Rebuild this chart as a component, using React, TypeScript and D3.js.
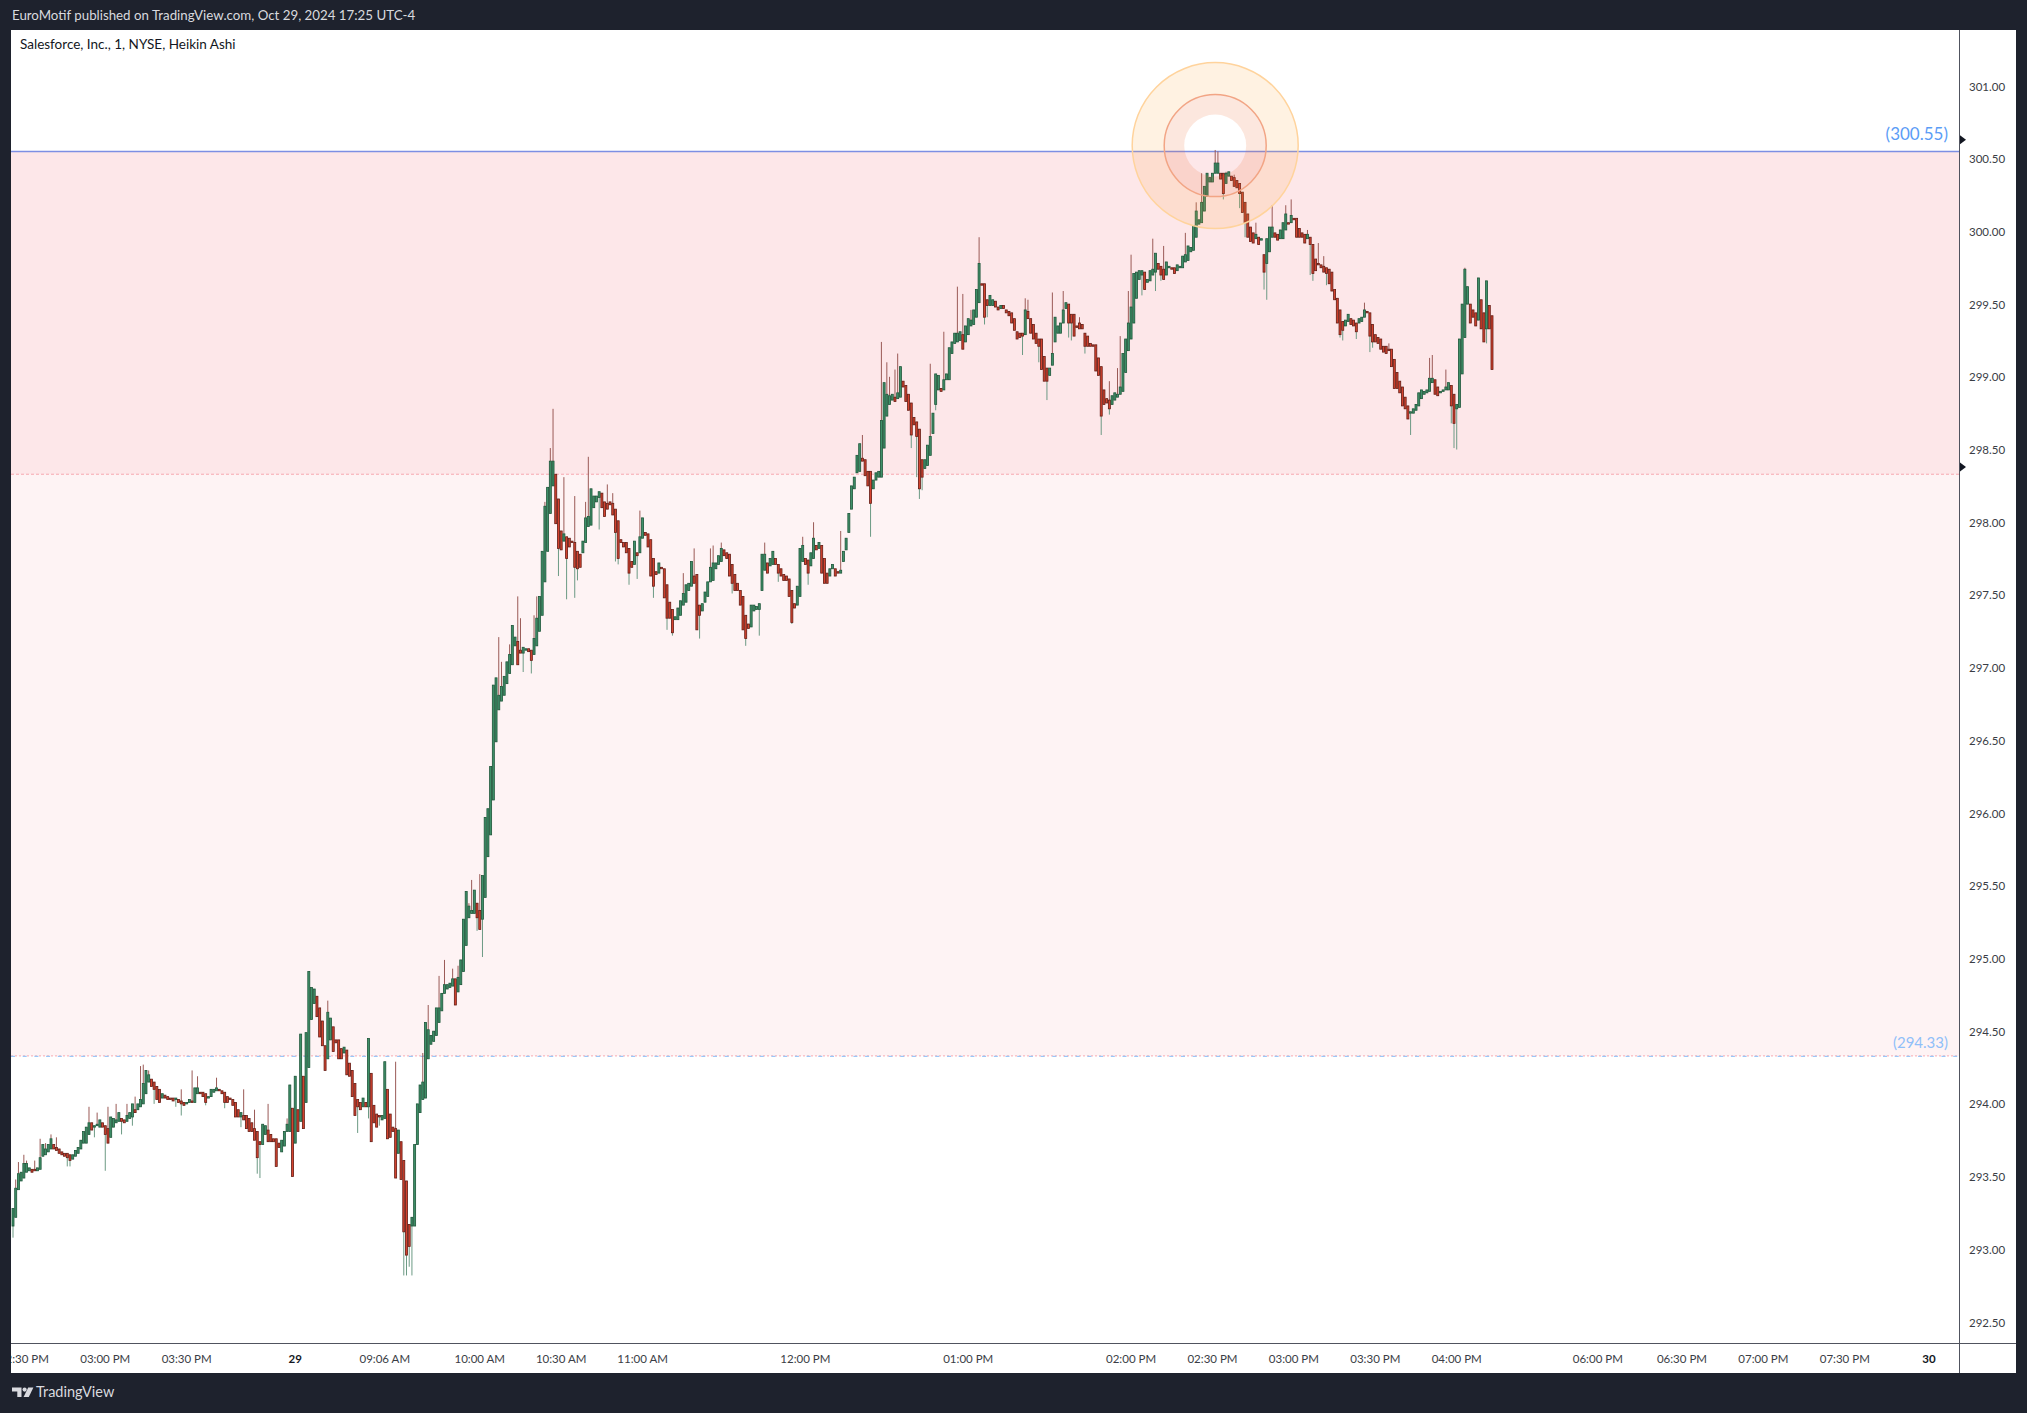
import React from 'react';
import * as d3 from 'd3';

// Salesforce, Inc. (CRM), 1 minute, Heikin Ashi bars.
// Bar index 0 is the first (partly visible) bar at the left edge.
const haOpen = [
  293.16, 293.22, 293.41, 293.47, 293.49, 293.53, 293.54, 293.55, 293.55, 293.54,
  293.55, 293.64, 293.65, 293.67, 293.69, 293.72, 293.70, 293.69, 293.67, 293.66,
  293.66, 293.65, 293.62, 293.64, 293.66, 293.69, 293.73, 293.73, 293.79, 293.87,
  293.84, 293.85, 293.84, 293.87, 293.85, 293.83, 293.77, 293.84, 293.87, 293.88,
  293.90, 293.89, 293.88, 293.90, 293.91, 293.96, 293.96, 293.98, 294.00, 294.07,
  294.15, 294.17, 294.15, 294.12, 294.10, 294.04, 294.06, 294.05, 294.04, 294.04,
  294.03, 294.03, 294.02, 294.01, 294.00, 294.01, 294.02, 294.01, 294.07, 294.08,
  294.08, 294.07, 294.04, 294.05, 294.08, 294.09, 294.10, 294.09, 294.08, 294.05,
  294.04, 294.03, 294.01, 293.96, 293.91, 293.92, 293.92, 293.90, 293.87, 293.83,
  293.81, 293.74, 293.72, 293.79, 293.82, 293.79, 293.76, 293.76, 293.73, 293.67,
  293.71, 293.81, 293.81, 293.97, 293.73, 293.96, 293.88, 294.19, 294.01, 294.25,
  294.58, 294.69, 294.74, 294.66, 294.57, 294.40, 294.31, 294.44, 294.53, 294.44,
  294.44, 294.38, 294.35, 294.37, 294.28, 294.23, 294.14, 294.03, 294.01, 293.98,
  294.01, 293.98, 294.21, 293.99, 293.93, 293.92, 293.89, 293.90, 294.10, 293.93,
  293.84, 293.83, 293.66, 293.74,
  293.61, 293.47, 293.17, 293.16, 293.16, 293.72, 293.94, 294.03, 294.04, 294.31,
  294.41, 294.43, 294.47, 294.56, 294.64, 294.76, 294.79, 294.80, 294.81, 294.86,
  294.77, 294.82, 294.91, 295.09, 295.28, 295.31, 295.31, 295.38, 295.33, 295.27,
  295.42, 295.70, 295.85, 296.09, 296.49, 296.71, 296.77, 296.81, 296.89, 296.96,
  297.02, 297.15, 297.18, 297.12, 297.10, 297.12, 297.13, 297.12, 297.09, 297.15,
  297.25, 297.36, 297.59, 297.80, 298.06, 298.25, 298.33, 298.16, 297.94, 297.87,
  297.90, 297.89, 297.87, 297.86, 297.80, 297.78, 297.79, 297.86, 297.97, 297.98,
  298.10, 298.14, 298.17, 298.20, 298.14, 298.13, 298.14, 298.13, 298.09, 298.01,
  297.88, 297.86, 297.86, 297.82, 297.73, 297.71, 297.79, 297.79, 297.89, 297.93,
  297.92, 297.88, 297.75, 297.66, 297.65, 297.69, 297.68, 297.57, 297.45, 297.40,
  297.33, 297.33, 297.36, 297.43, 297.45, 297.53, 297.56, 297.63, 297.64, 297.43,
  297.39, 297.45, 297.49, 297.59, 297.60, 297.68, 297.71, 297.73, 297.81, 297.79,
  297.78, 297.71, 297.64, 297.58, 297.53, 297.49, 297.36, 297.30, 297.28, 297.39,
  297.40, 297.40, 297.53, 297.67, 297.72, 297.70, 297.71, 297.75, 297.71, 297.68,
  297.64, 297.63, 297.61, 297.53, 297.44, 297.43, 297.49, 297.73, 297.75, 297.74,
  297.70, 297.75, 297.84, 297.82,
  297.84, 297.75, 297.65, 297.63, 297.68, 297.68, 297.66, 297.65, 297.73, 297.81,
  297.93, 298.09, 298.23, 298.34, 298.35, 298.44, 298.43, 298.35, 298.35, 298.23,
  298.29, 298.31, 298.31, 298.51, 298.73, 298.81, 298.84, 298.86, 298.85, 298.86,
  298.97, 298.94, 298.88, 298.82, 298.72, 298.69, 298.64, 298.43, 298.37, 298.39,
  298.46, 298.61, 298.81, 298.91, 298.92, 298.91, 298.98, 298.98, 299.16, 299.23,
  299.24, 299.25, 299.29, 299.24, 299.29, 299.35, 299.36, 299.41, 299.51, 299.64,
  299.64, 299.53, 299.49, 299.49, 299.52, 299.48, 299.47, 299.49, 299.46, 299.45,
  299.44, 299.40, 299.31, 299.30, 299.30, 299.29, 299.45, 299.40, 299.36, 299.30,
  299.26, 299.26, 299.14, 299.06, 299.01, 299.08, 299.24, 299.30, 299.30, 299.37,
  299.47, 299.50, 299.43, 299.43, 299.35, 299.37, 299.36, 299.30, 299.28, 299.23,
  299.22, 299.22, 299.13, 299.07, 298.91, 298.85, 298.84, 298.81, 298.84, 298.86,
  298.88, 298.90, 299.03, 299.18, 299.26, 299.37, 299.54, 299.67, 299.70, 299.72,
  299.65, 299.66, 299.70, 299.72, 299.78, 299.76, 299.74, 299.70, 299.75, 299.75,
  299.75, 299.73, 299.75, 299.75, 299.79, 299.80, 299.86, 299.87, 299.96, 300.05,
  300.06, 300.14, 300.24, 300.34, 300.34, 300.40, 300.40, 300.40, 300.40, 300.33,
  300.38, 300.38, 300.37, 300.35, 300.33,
  300.27, 300.20, 300.12, 300.03, 299.99, 299.95, 299.96, 299.94, 299.84, 299.78,
  299.86, 299.96, 299.99, 299.98, 299.95, 299.95, 300.01, 300.06, 300.06, 300.09,
  300.09, 300.02, 299.99, 299.98, 299.95, 299.96, 299.91, 299.81, 299.78, 299.77,
  299.76, 299.75, 299.74, 299.72, 299.60, 299.54, 299.46, 299.38, 299.35, 299.38,
  299.40, 299.39, 299.37, 299.37, 299.38, 299.41, 299.45, 299.44, 299.36, 299.29,
  299.27, 299.26, 299.21, 299.21, 299.19, 299.19, 299.12, 299.03, 298.97, 298.93,
  298.86, 298.80, 298.75, 298.75, 298.77, 298.80, 298.85, 298.88, 298.89, 298.90,
  298.96, 298.98, 298.93, 298.89, 298.90, 298.91, 298.91, 298.94, 298.88, 298.78,
  298.79, 299.02, 299.27, 299.50, 299.50, 299.46, 299.44, 299.39, 299.53, 299.44,
  299.33, 299.49, 299.42,
];

const haClose = [
  293.28, 293.42, 293.52, 293.53, 293.59, 293.59, 293.56, 293.53, 293.54, 293.56,
  293.63, 293.72, 293.69, 293.72, 293.76, 293.69, 293.68, 293.66, 293.65, 293.64,
  293.63, 293.61, 293.65, 293.68, 293.70, 293.75, 293.81, 293.84, 293.87, 293.82,
  293.85, 293.86, 293.89, 293.84, 293.79, 293.73, 293.91, 293.90, 293.89, 293.94,
  293.88, 293.87, 293.92, 293.94, 294.00, 293.94, 294.00, 294.03, 294.14, 294.23,
  294.20, 294.12, 294.10, 294.03, 294.01, 294.07, 294.04, 294.03, 294.03, 294.02,
  294.04, 294.01, 294.00, 293.99, 294.01, 294.03, 294.01, 294.11, 294.11, 294.07,
  294.05, 294.01, 294.05, 294.10, 294.10, 294.11, 294.09, 294.07, 294.01, 294.01,
  294.03, 293.99, 293.91, 293.91, 293.94, 293.89, 293.83, 293.81, 293.81, 293.75,
  293.63, 293.72, 293.86, 293.85, 293.74, 293.74, 293.74, 293.57, 293.70, 293.75,
  293.81, 293.86, 294.13, 293.50, 294.19, 293.81, 294.48, 293.83, 294.49, 294.91,
  294.80, 294.79, 294.60, 294.46, 294.40, 294.23, 294.63, 294.59, 294.36, 294.42,
  294.31, 294.31, 294.39, 294.20, 294.19, 294.05, 293.92, 293.98, 293.96, 294.04,
  293.98, 294.45, 293.74, 293.87, 293.84, 293.91, 293.92, 294.29, 293.76, 293.77,
  293.81, 293.49, 293.82, 293.48,
  293.12, 292.96, 293.02, 293.22, 293.72, 294.00, 294.13, 294.15, 294.56, 294.51,
  294.47, 294.50, 294.66, 294.66, 294.76, 294.82, 294.82, 294.83, 294.86, 294.68,
  294.87, 294.99, 295.27, 295.46, 295.36, 295.33, 295.47, 295.28, 295.20, 295.57,
  295.97, 296.03, 296.32, 296.88, 296.93, 296.81, 296.87, 296.94, 297.04, 297.09,
  297.29, 297.21, 297.02, 297.10, 297.14, 297.13, 297.11, 297.05, 297.20, 297.34,
  297.49, 297.80, 298.11, 298.24, 298.42, 298.42, 297.99, 297.82, 297.81, 297.92,
  297.75, 297.83, 297.86, 297.69, 297.68, 297.69, 297.87, 298.03, 298.04, 298.23,
  298.18, 298.18, 298.21, 298.10, 298.04, 298.09, 298.12, 298.05, 297.93, 297.75,
  297.86, 297.83, 297.79, 297.65, 297.69, 297.87, 297.77, 297.90, 298.03, 297.91,
  297.83, 297.63, 297.56, 297.64, 297.72, 297.68, 297.48, 297.34, 297.34, 297.24,
  297.35, 297.41, 297.46, 297.51, 297.57, 297.58, 297.73, 297.58, 297.26, 297.36,
  297.44, 297.52, 297.59, 297.69, 297.72, 297.72, 297.77, 297.82, 297.77, 297.75,
  297.63, 297.58, 297.53, 297.53, 297.43, 297.26, 297.20, 297.27, 297.43, 297.43,
  297.42, 297.44, 297.78, 297.78, 297.65, 297.75, 297.80, 297.71, 297.65, 297.63,
  297.60, 297.60, 297.49, 297.31, 297.41, 297.56, 297.82, 297.84, 297.71, 297.65,
  297.79, 297.89, 297.81, 297.86,
  297.65, 297.58, 297.58, 297.68, 297.71, 297.63, 297.65, 297.67, 297.80, 297.89,
  298.06, 298.25, 298.31, 298.46, 298.54, 298.42, 298.32, 298.25, 298.13, 298.29,
  298.34, 298.35, 298.70, 298.96, 298.88, 298.87, 298.88, 298.83, 298.89, 299.07,
  298.93, 298.83, 298.77, 298.60, 298.67, 298.59, 298.23, 298.31, 298.43, 298.53,
  298.59, 298.75, 299.02, 299.01, 298.90, 298.98, 299.02, 299.20, 299.24, 299.30,
  299.30, 299.31, 299.19, 299.35, 299.40, 299.39, 299.46, 299.60, 299.78, 299.63,
  299.41, 299.49, 299.56, 299.53, 299.48, 299.46, 299.49, 299.47, 299.44, 299.42,
  299.37, 299.32, 299.26, 299.27, 299.28, 299.46, 299.40, 299.30, 299.26, 299.23,
  299.21, 299.05, 298.97, 298.97, 299.06, 299.16, 299.41, 299.35, 299.37, 299.46,
  299.51, 299.37, 299.37, 299.28, 299.34, 299.33, 299.33, 299.21, 299.21, 299.21,
  299.21, 299.04, 299.01, 298.73, 298.81, 298.82, 298.78, 298.87, 298.89, 298.88,
  298.93, 299.16, 299.26, 299.37, 299.48, 299.71, 299.72, 299.73, 299.73, 299.60,
  299.67, 299.73, 299.74, 299.85, 299.74, 299.70, 299.67, 299.79, 299.76, 299.74,
  299.71, 299.77, 299.76, 299.83, 299.84, 299.90, 299.89, 300.04, 300.14, 300.08,
  300.20, 300.31, 300.40, 300.37, 300.40, 300.47, 300.47, 300.36, 300.26, 300.40,
  300.41, 300.35, 300.31, 300.30, 300.26,
  300.13, 300.06, 299.96, 299.93, 299.92, 299.98, 299.91, 299.95, 299.72, 299.95,
  300.03, 300.03, 299.96, 299.94, 300.01, 300.06, 300.12, 300.05, 300.11, 300.08,
  299.96, 299.96, 299.96, 299.92, 299.98, 299.91, 299.71, 299.73, 299.77, 299.75,
  299.72, 299.71, 299.64, 299.59, 299.53, 299.37, 299.29, 299.32, 299.39, 299.43,
  299.36, 299.35, 299.31, 299.40, 299.41, 299.46, 299.44, 299.28, 299.24, 299.24,
  299.23, 299.19, 299.17, 299.16, 299.18, 299.07, 298.92, 298.92, 298.89, 298.80,
  298.78, 298.71, 298.76, 298.78, 298.81, 298.89, 298.91, 298.90, 298.91, 298.99,
  298.99, 298.88, 298.87, 298.90, 298.91, 298.93, 298.96, 298.80, 298.68, 298.81,
  299.26, 299.50, 299.74, 299.62, 299.37, 299.41, 299.35, 299.68, 299.33, 299.24,
  299.66, 299.33, 299.05,
];

// visible wick tips: [bar index, price]
const upperWicks = [
  [1, 293.48], [2, 293.60], [4, 293.65], [5, 293.61], [8, 293.61], [10, 293.76], [12, 293.73],
  [14, 293.79], [16, 293.77], [28, 293.98], [31, 293.94], [35, 293.98], [38, 294.00], [42, 294.00],
  [45, 294.05], [47, 294.26], [48, 294.27], [50, 294.23], [62, 294.10], [66, 294.23], [68, 294.19],
  [75, 294.18], [85, 294.10], [89, 293.96], [94, 294.00], [101, 293.90], [116, 294.71], [141, 294.29],
  [150, 293.96], [151, 294.35], [153, 294.68], [157, 294.88], [159, 294.99], [162, 294.93],
  [164, 294.95], [166, 295.11], [168, 295.38], [169, 295.54], [172, 295.58], [175, 295.79],
  [176, 296.14], [178, 296.54], [179, 297.21], [180, 297.04], [183, 297.16], [186, 297.49],
  [187, 297.34], [192, 297.36], [193, 297.49], [196, 298.14], [198, 298.51], [199, 298.78],
  [203, 298.31], [207, 298.18], [211, 298.14], [212, 298.45], [219, 298.26], [221, 298.20],
  [231, 298.08], [247, 297.65], [251, 297.82], [257, 297.82], [258, 297.84], [261, 297.86],
  [276, 297.71], [277, 297.86], [291, 297.90], [295, 298.00], [305, 297.94], [311, 298.40],
  [313, 298.60], [320, 299.24], [322, 299.10], [323, 299.00], [325, 299.05], [326, 299.16],
  [338, 299.09], [343, 299.31], [348, 299.62], [350, 299.57], [353, 299.46], [356, 299.96],
  [373, 299.54], [374, 299.53], [383, 299.58], [387, 299.59], [391, 299.43], [393, 299.41],
  [404, 298.97], [407, 299.06], [408, 299.28], [411, 299.59], [412, 299.84], [420, 299.95],
  [424, 299.90], [432, 299.99], [436, 300.20], [438, 300.40], [443, 300.56], [444, 300.55],
  [447, 300.41], [450, 300.39], [458, 300.06], [464, 300.18], [469, 300.18], [471, 300.22],
  [477, 300.01], [481, 299.92], [483, 299.83], [498, 299.51], [507, 299.23], [522, 299.13],
  [523, 299.15], [528, 299.05], [535, 299.75], [543, 299.66],
];
const lowerWicks = [
  [0, 293.08], [20, 293.57], [21, 293.57], [30, 293.77], [34, 293.54], [40, 293.79], [44, 293.85],
  [52, 294.00], [60, 293.98], [62, 293.92], [71, 293.99], [78, 293.97], [84, 293.84], [87, 293.81],
  [90, 293.52], [91, 293.49], [97, 293.57], [127, 293.80], [131, 293.90], [135, 293.85],
  [144, 292.82], [145, 292.82], [146, 292.88], [147, 292.82], [171, 295.19], [173, 295.01],
  [188, 296.97], [191, 296.96], [201, 297.63], [204, 297.47], [207, 297.48], [208, 297.60],
  [216, 297.95], [222, 297.73], [223, 297.71], [227, 297.57], [230, 297.61], [236, 297.48],
  [241, 297.26], [243, 297.22], [253, 297.20], [265, 297.51], [270, 297.15], [275, 297.22],
  [282, 297.59], [287, 297.30], [293, 297.57], [316, 297.90], [331, 298.51], [333, 298.31],
  [334, 298.16], [335, 298.22], [340, 298.77], [358, 299.36], [359, 299.41], [372, 299.15],
  [378, 299.10], [381, 298.84], [389, 299.27], [390, 299.25], [395, 299.16], [401, 298.60],
  [404, 298.74], [416, 299.56], [421, 299.59], [423, 299.66], [446, 300.22], [452, 300.16],
  [454, 299.96], [461, 299.60], [462, 299.53], [478, 299.70], [479, 299.66], [484, 299.63],
  [489, 299.27], [490, 299.25], [495, 299.26], [500, 299.17], [501, 299.20], [509, 298.97],
  [514, 298.74], [515, 298.60], [530, 298.68], [531, 298.51], [532, 298.50], [543, 299.23],
];

const priceTicks = [301, 300.5, 300, 299.5, 299, 298.5, 298, 297.5, 297, 296.5, 296, 295.5, 295, 294.5, 294, 293.5, 293, 292.5];

// [bar index, label, day marker]
const timeTicks = [
  [4, '02:30 PM', false], [34, '03:00 PM', false], [64, '03:30 PM', false], [104, '29', true],
  [137, '09:06 AM', false], [172, '10:00 AM', false], [202, '10:30 AM', false], [232, '11:00 AM', false],
  [292, '12:00 PM', false], [352, '01:00 PM', false], [412, '02:00 PM', false], [442, '02:30 PM', false],
  [472, '03:00 PM', false], [502, '03:30 PM', false], [532, '04:00 PM', false], [584, '06:00 PM', false],
  [615, '06:30 PM', false], [645, '07:00 PM', false], [675, '07:30 PM', false], [706, '30', true],
];

const rayPrice = 300.55;
const zoneMid = 298.33;
const zoneLow = 294.33;
const axisMarkers = [300.63, 298.38];
const highlight = { bar: 443, price: 300.59 };

const FONT = 'Lato, "Open Sans", sans-serif';

const App = () => {
  const W = 2027, H = 1413;
  const panel = { x0: 11, y0: 30, x1: 2016, y1: 1373 };
  const plotRight = 1959, plotBottom = 1343;

  const x = d3.scaleLinear().domain([0, 545]).range([13, 1492]);
  const y = d3.scaleLinear().domain([292.5, 301]).range([1322, 86]);
  const fmt = d3.format('.2f');

  const upMap = new Map(upperWicks.map(d => [d[0], d[1]]));
  const loMap = new Map(lowerWicks.map(d => [d[0], d[1]]));

  const bars = haOpen.map((o, i) => {
    const c = haClose[i];
    const top = Math.max(o, c), bot = Math.min(o, c);
    const hi = upMap.has(i) ? Math.max(upMap.get(i), top) : top;
    const lo = loMap.has(i) ? Math.min(loMap.get(i), bot) : bot;
    return { i, top, bot, hi, lo, bull: c >= o };
  });

  const cx = x(highlight.bar), cy = y(highlight.price);
  const ring = (r1, r2) =>
    `M${cx - r1},${cy}a${r1},${r1} 0 1,0 ${2 * r1},0a${r1},${r1} 0 1,0 ${-2 * r1},0Z` +
    `M${cx - r2},${cy}a${r2},${r2} 0 1,0 ${2 * r2},0a${r2},${r2} 0 1,0 ${-2 * r2},0Z`;

  return (
    <div style={{ position: 'absolute', left: 0, top: 0, width: W, height: H }}>
      <svg width={W} height={H} style={{ display: 'block' }}>
        <defs>
          <clipPath id="plot">
            <rect x={panel.x0} y={panel.y0} width={plotRight - panel.x0} height={plotBottom - panel.y0} />
          </clipPath>
          <clipPath id="timeAxis">
            <rect x={panel.x0} y={plotBottom} width={plotRight - panel.x0} height={panel.y1 - plotBottom} />
          </clipPath>
        </defs>
        <rect width={W} height={H} fill="#1e222d" />
        <text x={12} y={20} fontFamily={FONT} fontSize={13.3} fill="#d9dadf">
          EuroMotif published on TradingView.com, Oct 29, 2024 17:25 UTC-4
        </text>

        <rect x={panel.x0} y={panel.y0} width={panel.x1 - panel.x0} height={panel.y1 - panel.y0} fill="#ffffff" />

        <g clipPath="url(#plot)">
          {/* price zones */}
          <rect x={panel.x0} y={y(rayPrice)} width={plotRight - panel.x0} height={y(zoneLow) - y(rayPrice)} fill="rgba(242,54,69,0.06)" />
          <rect x={panel.x0} y={y(rayPrice)} width={plotRight - panel.x0} height={y(zoneMid) - y(rayPrice)} fill="rgba(242,54,69,0.06)" />
          <line x1={panel.x0} x2={plotRight} y1={y(zoneMid)} y2={y(zoneMid)} stroke="#f7a9b0" strokeWidth={1} strokeDasharray="3 2" />
          <line x1={panel.x0} x2={plotRight} y1={y(zoneLow)} y2={y(zoneLow)} stroke="#f7a9b0" strokeWidth={1} strokeDasharray="2 2" />
          <line x1={panel.x0} x2={plotRight} y1={y(zoneLow) + 0.5} y2={y(zoneLow) + 0.5} stroke="#9cc6f7" strokeWidth={1.2} strokeDasharray="4 7.7" />
          <line x1={panel.x0} x2={plotRight} y1={y(rayPrice)} y2={y(rayPrice)} stroke="#7d8fe3" strokeWidth={1.6} />

          {/* wicks */}
          {bars.map(b => (
            <g key={`w${b.i}`}>
              {b.hi > b.top && (
                <line x1={x(b.i)} x2={x(b.i)} y1={y(b.hi)} y2={y(b.top)} stroke="#9a5a56" strokeWidth={1} />
              )}
              {b.lo < b.bot && (
                <line x1={x(b.i)} x2={x(b.i)} y1={y(b.bot)} y2={y(b.lo)} stroke="#6c9a84" strokeWidth={1} />
              )}
            </g>
          ))}
          {/* bodies */}
          {bars.map(b => (
            <rect
              key={`b${b.i}`}
              x={x(b.i) - 1}
              y={y(b.top)}
              width={2}
              height={Math.max(y(b.bot) - y(b.top), 0.8)}
              fill={b.bull ? '#3f9069' : '#d4432f'}
              stroke={b.bull ? '#1c5538' : '#621a12'}
              strokeWidth={0.8}
            />
          ))}

          {/* highlight rings */}
          <path d={ring(83, 51)} fillRule="evenodd" fill="rgba(255,170,60,0.15)" />
          <path d={ring(51, 31)} fillRule="evenodd" fill="rgba(240,110,60,0.17)" />
          <circle cx={cx} cy={cy} r={83} fill="none" stroke="#ffd39c" strokeWidth={1.5} />
          <circle cx={cx} cy={cy} r={51} fill="none" stroke="#f2a585" strokeWidth={1.5} />

          <text x={1948} y={y(rayPrice) - 18} textAnchor="end" dominantBaseline="central" fontFamily={FONT} fontSize={17} fill="#5b9cf6">
            ({fmt(rayPrice)})
          </text>
          <text x={1948} y={y(zoneLow) - 14} textAnchor="end" dominantBaseline="central" fontFamily={FONT} fontSize={15} fill="#90bff9">
            ({fmt(zoneLow)})
          </text>
        </g>

        <text x={20} y={49} fontFamily={FONT} fontSize={13.5} fill="#131722">
          Salesforce, Inc., 1, NYSE, Heikin Ashi
        </text>

        {/* axes frame */}
        <line x1={plotRight + 0.5} x2={plotRight + 0.5} y1={panel.y0} y2={panel.y1} stroke="#50535e" strokeWidth={1} />
        <line x1={panel.x0} x2={panel.x1} y1={plotBottom + 0.5} y2={plotBottom + 0.5} stroke="#50535e" strokeWidth={1} />

        {priceTicks.map(p => (
          <text key={p} x={1969} y={y(p)} dominantBaseline="central" fontFamily={FONT} fontSize={11.5} fill="#3a3d45">
            {fmt(p)}
          </text>
        ))}
        {axisMarkers.map(p => (
          <path key={p} d={`M${plotRight + 1},${y(p) - 4.5}L${plotRight + 7},${y(p)}L${plotRight + 1},${y(p) + 4.5}Z`} fill="#131722" />
        ))}

        <g clipPath="url(#timeAxis)">
          {timeTicks.map(([i, label, day]) => (
            <text
              key={`${i}-${label}`}
              x={x(i)}
              y={1358}
              textAnchor="middle"
              dominantBaseline="central"
              fontFamily={FONT}
              fontSize={11.5}
              fontWeight={day ? 700 : 400}
              fill={day ? '#131722' : '#3a3d45'}
            >
              {label}
            </text>
          ))}
        </g>

        {/* TradingView logo */}
        <g fill="#d9dadf">
          <path d="M12,1387.5h9.5v9.5h-4.2v-5.6h-5.3z" />
          <circle cx={24.6} cy={1389.6} r={2.1} />
          <path d="M28.2,1387.5h5.2l-4.6,9.5h-5.2z" />
        </g>
        <text x={36} y={1397} fontFamily={FONT} fontSize={14.5} fill="#d9dadf">
          TradingView
        </text>
      </svg>
    </div>
  );
};

export default App;
